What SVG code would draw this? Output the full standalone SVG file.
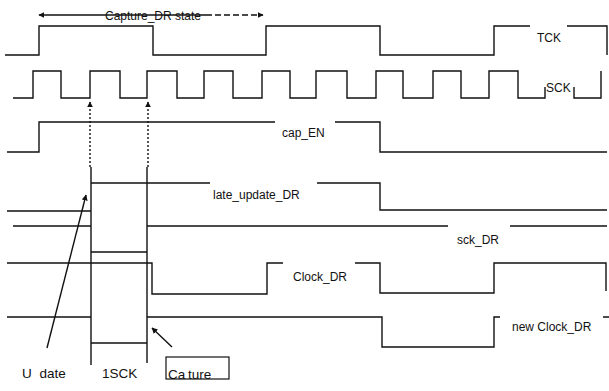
<svg xmlns="http://www.w3.org/2000/svg" width="609" height="391" viewBox="0 0 609 391">
<style>
.w{fill:none;stroke:#111;stroke-width:1.4;stroke-linejoin:miter}
.d{fill:none;stroke:#111;stroke-width:1.4;stroke-dasharray:2 2}
.t{font-family:"Liberation Sans",Arial,sans-serif;font-size:12px;fill:#111}
.b{font-family:"Liberation Sans",Arial,sans-serif;font-size:13.5px;fill:#111}
</style>
<defs>
<marker id="ah" viewBox="0 0 10 10" refX="9" refY="5" markerWidth="6" markerHeight="6" orient="auto-start-reverse" markerUnits="userSpaceOnUse">
<path d="M0,0 L10,5 L0,10 z" fill="#111"/>
</marker>
</defs>
<rect width="609" height="391" fill="#fff"/>
<g id="capture_dr_state">
<line class="w" x1="39" y1="15" x2="206" y2="15" marker-start="url(#ah)"/>
<line class="w" x1="206" y1="15" x2="263" y2="15" stroke-dasharray="6 3" marker-end="url(#ah)"/>
<text class="t" x="153" y="19.5" text-anchor="middle" font-size="12.5">Capture_DR state</text>
</g>
<g id="tck">
<path class="w" d="M5,55 H39 V26 H153 V55 H266 V26 H380 V55 H494 V26 H530 M567,26 H607 V55"/>
<text class="t" x="537" y="42">TCK</text>
</g>
<g id="sck">
<path class="w" d="M13,98 H33 V71 H61 V98 H90 V71 H120 V98 H147 V71 H177 V98 H204 V71 H233 V98 H262 V71 H290 V98 H316 V71 H347 V98 H376 V71 H403 V98 H433 V71 H461 V98 H489 V71 H518 V98 H545 V87 M574,87 V98 H601 V71"/>
<text class="t" x="546" y="92">SCK</text>
</g>
<g id="cap_en">
<path class="w" d="M7,152 H39 V122 H275 M335,122 H380 V152 H607"/>
<text class="t" x="282" y="137">cap_EN</text>
</g>
<g id="late_update_dr">
<path class="w" d="M7,211 H91 M91,183 H210 M317,183 H380 V210 H607"/>
<text class="t" x="213" y="198.5" font-size="12.6">late_update_DR</text>
</g>
<g id="sck_dr">
<path class="w" d="M13,226 H91 M91,252 H147 M147,226 H448 M510,226 H607"/>
<text class="t" x="457" y="244">sck_DR</text>
</g>
<g id="clock_dr">
<path class="w" d="M7,263 H152 V294 H267 V263 H283 M355,263 H380 V293 H494 V263 H606 V291"/>
<text class="t" x="293" y="281">Clock_DR</text>
</g>
<g id="new_clock_dr">
<path class="w" d="M7,317 H91 M91,343 H147 M147,317 H382 V347 H494 V317 H500 M603,317 H609"/>
<text class="t" x="512" y="331" font-size="12.5">new Clock_DR</text>
</g>
<g id="window_1sck">
<line class="w" x1="91" y1="167" x2="91" y2="365"/>
<line class="w" x1="147" y1="167" x2="147" y2="363"/>
</g>
<g id="labels">
<text class="b" x="22" y="378" word-spacing="4">U date</text>
<text class="b" x="102" y="378">1SCK</text>
<rect x="166" y="357" width="63" height="22" fill="none" stroke="#111" stroke-width="1.2"/>
<text class="b" x="168" y="379" word-spacing="-1">Ca ture</text>
</g>
<g id="connectors">
<line class="d" x1="90" y1="167" x2="90" y2="102" marker-end="url(#ah)"/>
<line class="d" x1="148" y1="167" x2="148" y2="102" marker-end="url(#ah)"/>
<line class="w" x1="47" y1="348" x2="86" y2="195" stroke-width="1.1" marker-end="url(#ah)"/>
<line class="w" x1="172" y1="347" x2="152" y2="328" stroke-width="1.2" marker-end="url(#ah)"/>
</g>
</svg>
